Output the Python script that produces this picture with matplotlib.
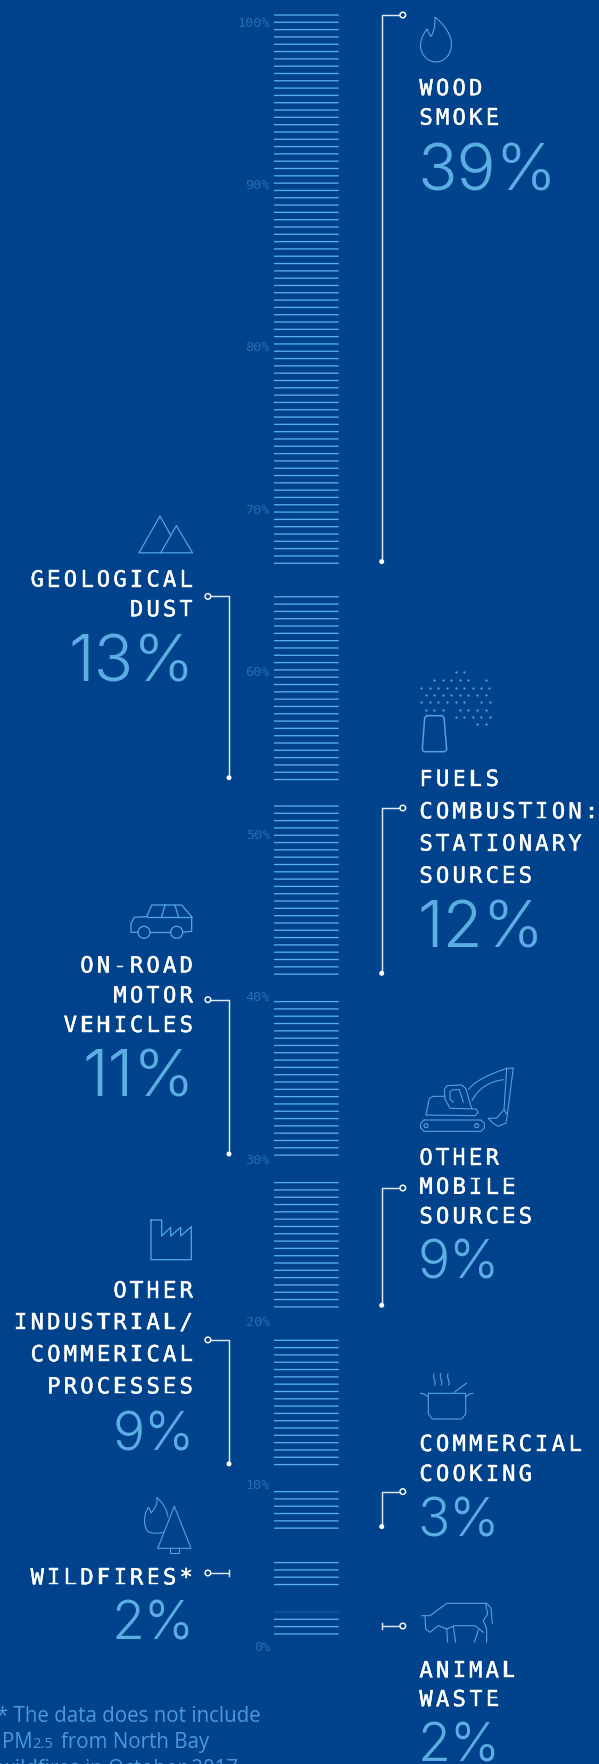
import numpy as np
import matplotlib
matplotlib.use("Agg")
import matplotlib.pyplot as plt
import matplotlib.patheffects as pe
from matplotlib.path import Path
from matplotlib.patches import PathPatch, Circle
from matplotlib.text import Text

# data
sources = ["WOOD\nSMOKE", "GEOLOGICAL\nDUST", "FUELS\nCOMBUSTION:\nSTATIONARY\nSOURCES",
           "ON-ROAD\nMOTOR\nVEHICLES", "OTHER\nMOBILE\nSOURCES",
           "OTHER\nINDUSTRIAL/\nCOMMERICAL\nPROCESSES", "COMMERCIAL\nCOOKING",
           "WILDFIRES*", "ANIMAL\nWASTE"]
shares = [39, 13, 12, 11, 9, 9, 3, 2, 2]
line_counts = [76, 26, 24, 22, 18, 18, 6, 4, 4]
tick_values = [100, 90, 80, 70, 60, 50, 40, 30, 20, 10, 0]

# layout, in pixels of the 599x1765 picture
BG = "#00438c"
LINE = "#58afe9"
BIG = "#5aaee4"
TICK = "#2a6cb3"
WHITE = "#dfe8f3"
ICON = "#4fa3df"
PITCH = 7.31
seg_tops = [16.0, 597.8, 807.0, 1002.6, 1183.6, 1341.3, 1492.6, 1563.6, 1613.0]
sides = ["r", "l", "r", "l", "r", "l", "r", "l", "r"]
conn_top = [16.0, 597.4, 809.0, 1000.7, 1189.0, 1340.9, 1492.6, 1574.0, 1627.0]
conn_bot = [562.6, 778.7, 974.3, 1155.0, 1306.3, 1464.9, 1527.6, 1574.0, 1627.0]
label_base = [[96.2, 125.6], [587.5, 617.3], [786.9, 819.4, 851.5, 883.7],
              [973.5, 1003.5, 1033], [1165.7, 1194.8, 1224.3],
              [1298.5, 1330.2, 1362.3, 1394.4], [1452, 1481.9], [1585.4], [1678.3, 1707.2]]
big_base = [190.6, 681.5, 947.5, 1096.7, 1278.6, 1450.8, 1536.6, 1639.3, 1761.8]


class TrackedText(Text):
    # one string, drawn with letter spacing (matplotlib has none)
    def __init__(self, x, y, s, pitch, **kw):
        super().__init__(x, y, s, **kw)
        self.pitch = pitch

    def draw(self, renderer):
        s = self.get_text()
        x, y = self.get_position()
        ha = self.get_ha()
        left = x if ha == "left" else x - len(s) * self.pitch
        self.set_ha("center")
        for i, ch in enumerate(s):
            self.set_text(ch)
            self.set_x(left + (i + 0.5) * self.pitch)
            super().draw(renderer)
        self.set_text(s)
        self.set_x(x)
        self.set_ha(ha)


fig = plt.figure(figsize=(5.99, 17.65), dpi=100, facecolor=BG)
ax = fig.add_axes([0, 0, 1, 1])
ax.set_xlim(0, 599)
ax.set_ylim(1765, 0)
ax.axis("off")

# ladder of lines
for k, (top, n) in enumerate(zip(seg_tops, line_counts)):
    ys = top + np.arange(n) * PITCH
    lc = ax.hlines(ys, 274, 338.7, color=LINE, lw=0.95)
    lc.set_snap(False)
    if k == len(line_counts) - 1:
        lc.set_alpha([0.2] + [1] * (n - 1))

for v in tick_values:
    ax.text(270, 1647.6 - v * 16.246, f"{v}%", ha="right", va="center",
            family="DejaVu Sans Mono", fontsize=9.7, color=TICK)

# connectors and labels
thick = [pe.withStroke(linewidth=0.3, foreground="white")]
for k, src in enumerate(sources):
    right = sides[k] == "r"
    xv = 381.7 if right else 229
    xc = 402.8 if right else 207.9
    top, bot = conn_top[k], conn_bot[k]
    ax.plot([xc, xv, xv], [top, top, bot], color=WHITE, lw=1.05, solid_joinstyle="miter")
    ax.add_patch(Circle((xc, top), 2.8, fc=BG, ec="white", lw=1.05, zorder=3))
    if bot > top:
        ax.add_patch(Circle((xv, bot), 2.5, fc="white", ec="none", zorder=3))
    else:
        ax.plot([xv, xv], [top - 3, top + 3], color=WHITE, lw=1.05)
    x_lab = 417.8 if right else 194.5
    for line, yb in zip(src.split("\n"), label_base[k]):
        ax.add_artist(TrackedText(x_lab, yb, line, 16.55, ha="left" if right else "right",
                                  va="baseline", family="DejaVu Sans Mono",
                                  fontsize=16, color="white", path_effects=thick))
    # single digit shares are set smaller in the original
    size = 47 if shares[k] >= 10 else 38.5
    ax.text(417.5 if right else 195, big_base[k], f"{shares[k]}%", ha="left" if right else "right",
            va="baseline", family="Inter", weight=300, fontsize=size, color=BIG)

# footnote
foot = dict(family="Open Sans", fontsize=14.8, color="#4a9ad8", va="baseline")
ax.text(-3, 1722, "* The data does not include", **foot)
ax.text(1.5, 1748.3, "PM", **foot)
ax.text(32, 1748.3, "2.5", **{**foot, "fontsize": 10.5})
ax.text(61, 1748.3, "from North Bay", **foot)
ax.text(-1, 1775, "wildfires in October 2017.", **foot)


# icons: points are in crop pixels (3x) from an origin
def poly(pts, ox, oy, s=1 / 3, lw=0.8, closed=False):
    pts = [(ox + p[0] * s, oy + p[1] * s) for p in pts]
    if closed:
        pts.append(pts[0])
    xs, ys = zip(*pts)
    ax.plot(xs, ys, color=ICON, lw=lw, solid_joinstyle="round", solid_capstyle="round")


def curve(pts, ox, oy, s=1 / 3, lw=0.8):
    # first point, then cubic bezier triples
    verts = [(ox + p[0] * s, oy + p[1] * s) for p in pts]
    codes = [Path.MOVETO] + [Path.CURVE4] * (len(verts) - 1)
    ax.add_patch(PathPatch(Path(verts, codes), fc="none", ec=ICON, lw=lw))


def ring(cx, cy, r, ox, oy, s=1 / 3, lw=0.8):
    ax.add_patch(Circle((ox + cx * s, oy + cy * s), r * s, fc=BG, ec=ICON, lw=lw, zorder=3))


# flame
curve([(435, 18), (447, 28), (451.5, 38), (451.5, 45), (451.5, 56), (444, 63), (436, 63),
       (428, 63), (420.5, 56), (420.5, 46), (420.5, 40), (424, 34), (427.2, 29.9),
       (428, 33), (430, 36), (431, 37.5), (435, 31), (435, 25), (435, 18)], 0, 0, s=1)

# mountains
poly([(139, 553.8), (160, 517), (170.5, 536)], 0, 0, s=1, lw=0.9)
poly([(139, 553.8), (192.5, 553.8), (176.4, 526.6), (160.7, 553.8)], 0, 0, s=1, lw=0.9)

# chimney and smoke
dot_rows = {40: [167, 193], 63: [103, 128, 154, 180, 205, 257],
            86: [64, 90, 115, 141, 167, 192, 218, 243, 268],
            108: [77, 103, 128, 154, 180, 205, 231, 257],
            130: [64, 90, 115, 141, 167, 193, 244, 270],
            152: [77, 103, 128, 180, 205, 231, 257],
            174: [167, 193, 218, 244, 270], 196: [231, 257]}
for yy, xx in dot_rows.items():
    ax.scatter(400 + np.array(xx) / 3, np.full(len(xx), 660 + yy / 3), s=2.6, color=ICON, lw=0)
poly([(80, 170), (127, 170), (132, 176), (140, 272), (134, 278), (72, 278), (67, 272), (74, 176)],
     400, 660, lw=1.1, closed=True)

# car
O = (125, 895)
poly([(38, 115), (18, 115), (18, 88), (28, 70), (65, 68), (80, 33), (170, 33), (200, 68), (200, 112), (173, 115)], *O, lw=0.95)
poly([(65, 68), (200, 68)], *O, lw=0.95)
poly([(120, 33), (110, 68)], *O, lw=0.95)
poly([(150, 33), (160, 68)], *O, lw=0.95)
poly([(75, 115), (137, 115)], *O, lw=0.95)
ring(57, 115, 18, *O, lw=0.95)
ring(155, 115, 18, *O, lw=0.95)

# excavator
O = (400, 1050)
poly([(72, 213), (243, 213), (253, 223), (253, 237), (243, 247), (72, 247), (62, 237), (62, 223)], *O, closed=True)
ring(78, 230, 6, *O)
ring(230, 230, 6, *O)
poly([(78, 198), (88, 148), (100, 142), (135, 142)], *O)
poly([(78, 198), (225, 200), (235, 190), (228, 180), (150, 178), (135, 150), (133, 120), (142, 110), (185, 108), (197, 118), (215, 178)], *O)
poly([(160, 160), (150, 150), (150, 128), (158, 122), (178, 122), (190, 160)], *O)
curve([(205, 122), (225, 95), (270, 75), (320, 58)], *O)
curve([(216, 155), (235, 120), (265, 97), (312, 92)], *O)
poly([(320, 58), (340, 57), (322, 195)], *O)
poly([(320, 58), (312, 182)], *O)
poly([(265, 208), (290, 207), (312, 182), (322, 198), (318, 222), (295, 232), (278, 222), (265, 208)], *O)

# factory
poly([(33, 18), (65, 18), (65, 66), (92, 40), (92, 66), (122, 40), (122, 66), (154, 38), (154, 137), (33, 137)],
     140, 1215, lw=0.95, closed=True)

# pot
O = (415, 1365)
poly([(40, 88), (152, 88), (152, 150), (140, 165), (52, 165), (40, 150)], *O, closed=True)
curve([(15, 88), (25, 88), (33, 92), (40, 100)], *O)
curve([(175, 88), (165, 88), (158, 92), (152, 100)], *O)
poly([(118, 85), (155, 57)], *O)
for sx in (58, 78, 100):
    curve([(sx, 28), (sx - 8, 40), (sx + 8, 52), (sx, 65)], *O)

# fire and tree
O = (135, 1490)
poly([(118, 52), (168, 178), (68, 178)], *O, closed=True)
poly([(105, 178), (105, 192), (132, 192), (132, 178)], *O)
curve([(65, 25), (85, 42), (97, 65), (99, 84)], *O)
curve([(65, 25), (70, 45), (58, 60), (48, 72), (46, 65), (43, 58), (40, 55),
       (26, 75), (24, 115), (40, 128), (52, 135), (72, 133), (85, 130)], *O)

# cow
O = (415, 1595)
poly([(20, 65), (45, 65), (95, 28), (215, 28), (228, 42), (232, 88)], *O)
poly([(212, 28), (218, 60), (205, 80), (215, 105), (215, 145)], *O)
poly([(30, 65), (32, 105), (45, 115), (70, 95), (95, 105), (118, 95), (180, 95), (205, 115)], *O)
poly([(95, 103), (98, 145)], *O)
poly([(115, 97), (122, 145)], *O)
poly([(190, 108), (178, 145)], *O)

fig.savefig("out.png", dpi=100, facecolor=BG)
